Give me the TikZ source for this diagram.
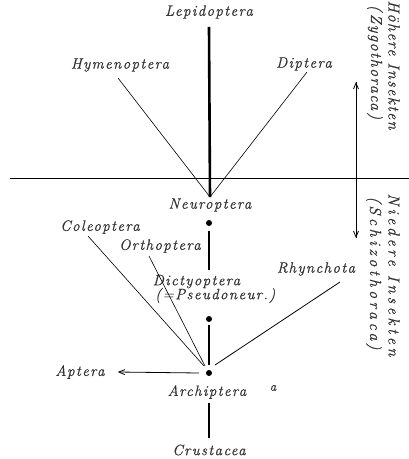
\documentclass[tikz,border=0pt]{standalone}
\usepackage{fontspec}
\setmainfont{Latin Modern Roman}[LetterSpace=9, FakeBold=0.6]
\usetikzlibrary{arrows.meta,calc}
\begin{document}
\begin{tikzpicture}[x=1pt,y=-1pt,
  lbl/.style={font=\fontsize{15}{16}\selectfont\itshape, inner sep=1pt, text=black!80},
  side/.style={font=\fontsize{16}{18}\selectfont\itshape, inner sep=1pt, rotate=-90, text=black!80},
  wide/.style={font=\fontsize{16}{18}\selectfont\itshape\addfontfeatures{LetterSpace=22}},
  stem/.style={line width=2.6pt},
  twig/.style={line width=0.6pt},
  dotnode/.style={circle, fill=black, inner sep=0pt, minimum size=6pt},
  tip/.style={-{Straight Barb[length=6pt,width=5pt]}, line width=0.8pt}]
\useasboundingbox (0,0) rectangle (409,459);

% labels
\node[lbl] (lep) at (209,12) {Lepidoptera};
\node[lbl] (hym) at (120,65) {Hymenoptera};
\node[lbl] (dip) at (304,64) {Diptera};
\node[lbl] (neu) at (210,205) {Neuroptera};
\node[lbl] (col) at (100,227) {Coleoptera};
\node[lbl] (ort) at (160,246) {Orthoptera};
\node[lbl, align=left] (dic) at (214,289) {Dictyoptera\\[-2pt]\,(=Pseudoneur.)};
\node[lbl] (rhy) at (316,269) {Rhynchota};
\node[lbl] (apt) at (80,372) {Aptera};
\node[lbl] (arc) at (207,392) {Archiptera};
\node[lbl] (arcnote) at (273,388) {\fontsize{13}{14}\selectfont a};
\node[lbl] (cru) at (209,450) {Crustacea};

% side captions
\node[side] (hoe) at (394,65) {Höhere Insekten};
\node[side] (zyg) at (375,62) {(\,Zygothoraca\,)};
\node[side, wide] (nie) at (394,275) {Niedere Insekten};
\node[side, wide] (sch) at (374,273) {(\,Schizothoraca\,)};

% points of the tree
\coordinate (apex) at (210,197);
\node[dotnode] (d1) at (209,223) {};
\node[dotnode] (d2) at (209,319) {};
\node[dotnode] (d3) at (209,373) {};

% dividing line
\coordinate (hl) at (10,178);
\coordinate (hr) at (409,178);
\draw[line width=0.9pt] (hl) -- (hr);

% vertical double arrow on the right
\coordinate (vt) at (356,82);
\coordinate (vb) at (356,238);
\draw[tip] (vb) -- (vt);
\draw[tip] (vt) -- (vb);

% upper fork
\draw[stem] ($(lep.south)+(0,7)$) -- (apex);
\coordinate (hyme) at (118,78);
\coordinate (dipe) at (307,72);
\draw[twig] (hyme) -- (apex) -- (dipe);

% main stem
\draw[stem] ($(d1)+(0,8)$) -- ($(d1)+(0,47)$);
\draw[stem] ($(d2)+(0,6)$) -- ($(d3)+(0,-8)$);
\draw[stem] ($(d3)+(0,30)$) -- ($(d3)+(0,65)$);

% side branches
\coordinate (cole) at (88,236);
\coordinate (orte) at (149,256);
\coordinate (rhye) at (340,282);
\draw[twig] (cole) -- ($(d3)+(-5,-7)$);
\draw[twig] (orte) -- ($(d3)+(-4,-7)$);
\draw[twig, line width=0.8pt] (rhye) -- ($(d3)+(6,-8)$);

% arrow to Aptera
\draw[tip] ($(d3)+(-10,0)$) -- ($(apt.east)+(12,0)$);
\end{tikzpicture}
\end{document}
